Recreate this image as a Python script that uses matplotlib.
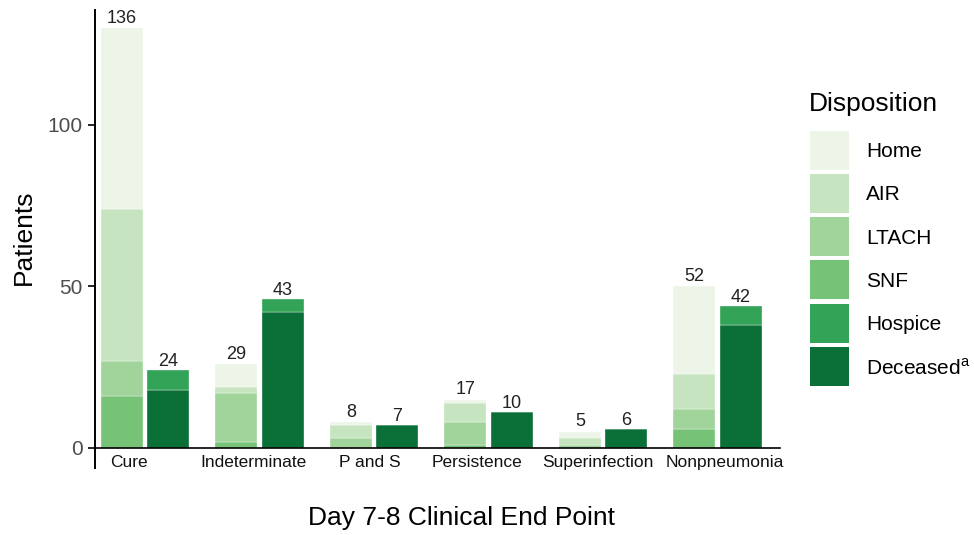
import matplotlib
matplotlib.use("Agg")
import matplotlib.pyplot as plt
from matplotlib.patches import Rectangle
import matplotlib.transforms as mtransforms
import numpy as np

plt.rcParams['font.family'] = ['Liberation Sans', 'DejaVu Sans']
plt.rcParams['mathtext.fontset'] = 'custom'
plt.rcParams['mathtext.rm'] = 'Liberation Sans'

categories = ["Cure", "Indeterminate", "P and S", "Persistence", "Superinfection", "Nonpneumonia"]

# Left bar (discharged alive)
home  = [56, 7, 1, 1, 2, 27]
air   = [47, 2, 4, 6, 2, 11]
ltach = [11, 15, 3, 7, 1, 6]
snf   = [16, 2, 0, 1, 0, 6]
# Right bar
hospice  = [6, 4, 0, 0, 0, 6]
deceased = [18, 42, 7, 11, 6, 38]

left_labels  = [136, 29, 8, 17, 5, 52]
right_labels = [24, 43, 7, 10, 6, 42]

legend_names = ["Home", "AIR", "LTACH", "SNF", "Hospice", "Deceased$^{\\mathrm{a}}$"]
colors = {"Home": "#edf5e9", "AIR": "#c7e4c0", "LTACH": "#a1d49b",
          "SNF": "#76c377", "Hospice": "#33a357", "Deceased": "#0a7038"}

W, H = 974, 535
fig = plt.figure(figsize=(W / 100, H / 100), dpi=100)
ax_left, ax_right, ax_top, ax_bot = 95, 780, 10, 468
ax = fig.add_axes([ax_left / W, 1 - ax_bot / H, (ax_right - ax_left) / W, (ax_bot - ax_top) / H])

x = np.arange(len(categories))
bw = 0.367
off = 0.202
xl = x - off
xr = x + off

bottom = np.zeros(len(categories))
for name, vals in [("SNF", snf), ("LTACH", ltach), ("AIR", air), ("Home", home)]:
    v = np.array(vals, dtype=float)
    ax.bar(xl, v, bw, bottom=bottom, color=colors[name], edgecolor='white', linewidth=0.25)
    bottom += v
left_tot = bottom.copy()

bottom = np.zeros(len(categories))
for name, vals in [("Deceased", deceased), ("Hospice", hospice)]:
    v = np.array(vals, dtype=float)
    ax.bar(xr, v, bw, bottom=bottom, color=colors[name], edgecolor='white', linewidth=0.25)
    bottom += v
right_tot = bottom.copy()

for i in range(len(categories)):
    ax.annotate(str(left_labels[i]), (xl[i], left_tot[i]), xytext=(0, 1), textcoords='offset points',
                ha='center', va='bottom', fontsize=13, color='#222222')
    ax.annotate(str(right_labels[i]), (xr[i], right_tot[i]), xytext=(0, 0), textcoords='offset points',
                ha='center', va='bottom', fontsize=13, color='#222222')

ax.set_xlim(-0.437, 5.546)
ax.set_ylim(-6.2, 135.6)
ax.spines['top'].set_visible(False)
ax.spines['right'].set_visible(False)
ax.spines['bottom'].set_position(('data', 0))
ax.spines['left'].set_linewidth(1.4)
ax.spines['bottom'].set_linewidth(1.2)

ax.set_yticks([0, 50, 100])
ax.tick_params(axis='y', labelsize=15, labelcolor='#4d4d4d', length=5, width=1.2, pad=4)
ax.set_xticks(x)
ax.set_xticklabels(categories, fontsize=12.5)
ax.tick_params(axis='x', length=0, pad=5, labelcolor='#111111')

# small horizontal shifts of category labels (pixels), as in the original layout
label_shift_px = [-16.5, -6, -4, -11.5, -5.5, 7.5]
for lbl, s in zip(ax.get_xticklabels(), label_shift_px):
    lbl.set_transform(lbl.get_transform() + mtransforms.ScaledTranslation(s / 100, 0, fig.dpi_scale_trans))

fig.text(24 / W, 1 - 237 / H, "Patients", rotation=90, ha='center', va='center', fontsize=19)
fig.text(462 / W, 1 - 518 / H, "Day 7-8 Clinical End Point", ha='center', va='center', fontsize=19)

# Legend (manual)
fig.text(809 / W, 1 - 104 / H, "Disposition", ha='left', va='center', fontsize=19)
key_names = ["Home", "AIR", "LTACH", "SNF", "Hospice", "Deceased"]
for k, (kn, lab) in enumerate(zip(key_names, legend_names)):
    top = 130.5 + k * 43.3
    fig.patches.append(Rectangle((810 / W, 1 - (top + 39) / H), 39 / W, 39 / H,
                                 transform=fig.transFigure, facecolor=colors[kn], edgecolor='none'))
    fig.text(866 / W, 1 - (top + 21) / H, lab, ha='left', va='center', fontsize=15)

fig.savefig("out.png", dpi=100)
